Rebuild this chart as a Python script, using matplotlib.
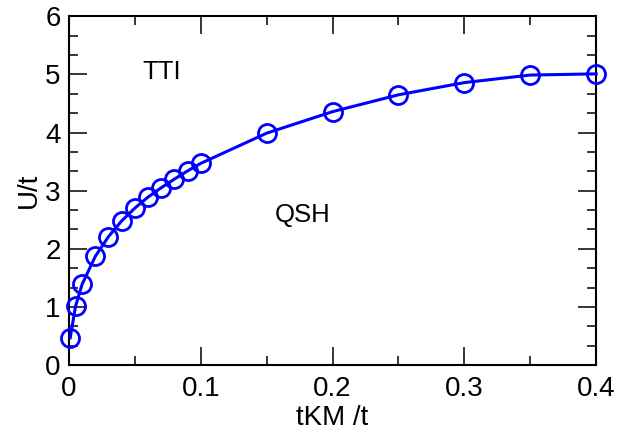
import matplotlib
matplotlib.use("Agg")
import matplotlib.pyplot as plt
from matplotlib.ticker import MultipleLocator

# phase boundary
tkm = [0.001, 0.005, 0.01, 0.02, 0.03, 0.04, 0.05, 0.06, 0.07, 0.08, 0.09, 0.1,
       0.15, 0.2, 0.25, 0.3, 0.35, 0.4]
u_c = [0.47, 1.01, 1.39, 1.87, 2.21, 2.48, 2.70, 2.89, 3.05, 3.20, 3.34, 3.47,
       3.99, 4.36, 4.65, 4.86, 4.99, 5.01]

plt.rcParams['font.family'] = ['Liberation Sans', 'DejaVu Sans']

fig = plt.figure(figsize=(6.21, 4.30), dpi=100)
ax = fig.add_axes([0.111, 0.151, 0.849, 0.811])

ax.plot(tkm, u_c, color='#0000ff', lw=2.2, marker='o', ms=13,
        mfc='none', mec='#0000ff', mew=2.0, clip_on=False, zorder=3)

ax.set_xlim(0, 0.4)
ax.set_ylim(0, 6)
ax.xaxis.set_major_locator(MultipleLocator(0.1))
ax.xaxis.set_minor_locator(MultipleLocator(0.05))
ax.yaxis.set_major_locator(MultipleLocator(1))
ax.yaxis.set_minor_locator(MultipleLocator(1 / 3))
ax.set_xticks([0, 0.1, 0.2, 0.3, 0.4])
ax.set_xticklabels(['0', '0.1', '0.2', '0.3', '0.4'])

ax.tick_params(which='both', direction='in', top=True, right=True,
               labelsize=20, width=1.1)
ax.tick_params(which='major', length=13)
ax.tick_params(axis='x', which='major', pad=8)
ax.tick_params(axis='y', which='major', pad=6)
ax.tick_params(which='minor', length=6.5)
for s in ax.spines.values():
    s.set_linewidth(1.5)

ax.set_xlabel('tKM /t', fontsize=20, labelpad=2)
ax.set_ylabel('U/t', fontsize=20, labelpad=2)

ax.text(0.07, 5.04, 'TTI', fontsize=18.5, ha='center', va='center')
ax.text(0.177, 2.58, 'QSH', fontsize=18.5, ha='center', va='center')

fig.savefig('out.png', dpi=100)
